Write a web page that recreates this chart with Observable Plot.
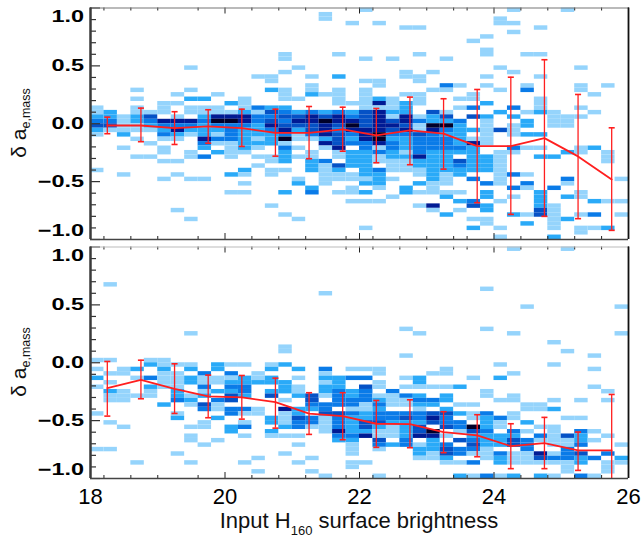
<!DOCTYPE html>
<html><head><meta charset="utf-8">
<script src="https://cdn.jsdelivr.net/npm/d3@7"></script>
<script src="https://cdn.jsdelivr.net/npm/@observablehq/plot@0.6"></script>
<style>
body{margin:0;background:#fff;}
#wrap{position:relative;width:641px;height:538px;overflow:hidden;font-family:"Liberation Sans",Arial,sans-serif;}
#wrap svg{position:absolute;left:0;}
</style></head><body><div id="wrap"></div>
<script>
// ---- data ----
const xMid = [18.25,18.75,19.25,19.75,20.25,20.75,21.25,21.75,22.25,22.75,23.25,23.75,24.25,24.75,25.25,25.75];
const topMed = [-0.015,-0.015,-0.038,-0.023,-0.038,-0.078,-0.078,-0.049,-0.101,-0.058,-0.086,-0.193,-0.193,-0.124,-0.282,-0.481];
const topHi  = [0.057,0.135,0.104,0.121,0.126,0.126,0.149,0.143,0.132,0.23,0.216,0.296,0.402,0.553,0.253,-0.035];
const topLo  = [-0.086,-0.155,-0.179,-0.168,-0.196,-0.28,-0.302,-0.237,-0.337,-0.354,-0.392,-0.682,-0.783,-0.80,-0.82,-0.921];
const botMed = [-0.219,-0.147,-0.225,-0.291,-0.30,-0.34,-0.44,-0.461,-0.527,-0.53,-0.599,-0.628,-0.72,-0.694,-0.757,-0.757];
const botHi  = [0.011,0.022,-0.009,-0.107,-0.11,-0.133,-0.259,-0.259,-0.326,-0.32,-0.423,-0.449,-0.527,-0.472,-0.599,-0.274];
const botLo  = [-0.461,-0.311,-0.438,-0.475,-0.487,-0.565,-0.619,-0.665,-0.731,-0.734,-0.777,-0.812,-0.915,-0.915,-0.93,-1.05];

// 2D histogram: one entry per x bin (0.2 mag, from 18), each [y bin index (52 bins over -1..1), count level 1-6]
const topCells = [
 [[29,1],[28,1],[27,2],[26,3],[25,4],[24,2],[23,1],[15,1]],
 [[28,2],[27,2],[26,3],[25,4],[24,1]],
 [[27,1],[26,1],[25,1],[24,1],[23,2],[20,1],[14,1]],
 [[33,1],[31,1],[29,1],[28,1],[27,2],[26,2],[25,1],[24,1],[22,1],[18,1]],
 [[28,1],[27,4],[26,3],[25,2],[24,1],[21,1],[18,1]],
 [[30,1],[29,1],[28,1],[26,5],[25,3],[24,2],[23,3],[22,1],[20,1],[19,1],[17,1],[13,1]],
 [[32,1],[30,1],[27,1],[26,5],[25,3],[24,5],[23,2],[22,1],[17,1],[14,1],[6,1]],
 [[38,1],[33,1],[31,2],[29,1],[28,1],[26,5],[25,3],[24,2],[23,1],[19,1],[18,1],[13,1],[4,1]],
 [[31,2],[29,1],[28,1],[27,2],[26,3],[25,2],[24,2],[23,2],[22,5],[21,3],[20,2],[18,3],[13,1]],
 [[32,1],[29,1],[28,1],[27,5],[26,6],[25,3],[24,2],[23,1],[22,3],[21,1],[19,2]],
 [[30,2],[28,1],[27,5],[26,6],[25,3],[24,3],[23,3],[22,3],[21,1],[20,1],[19,1],[18,1],[14,2],[10,1]],
 [[31,1],[30,1],[29,1],[28,2],[27,5],[26,5],[25,3],[24,2],[23,2],[22,2],[21,2],[20,2],[19,1],[15,2],[14,1],[12,1],[10,1]],
 [[36,1],[29,3],[28,1],[27,3],[26,3],[25,2],[24,2],[23,2],[22,1],[21,2],[20,1],[18,1],[16,1]],
 [[36,1],[35,1],[33,2],[29,2],[28,4],[27,3],[26,4],[25,5],[24,3],[23,2],[22,2],[21,2],[18,1],[17,1],[15,1],[14,1],[7,1]],
 [[41,1],[40,1],[37,1],[33,1],[32,1],[31,1],[29,2],[28,3],[27,4],[26,3],[25,4],[24,5],[23,3],[22,6],[21,1],[20,3],[19,2],[18,2],[17,2],[15,1],[10,2],[5,1]],
 [[38,1],[31,1],[28,2],[27,4],[26,5],[25,4],[24,2],[23,1],[22,1],[20,1],[18,1],[13,1],[12,2],[4,1]],
 [[36,1],[34,1],[33,1],[32,2],[28,3],[27,5],[26,5],[25,4],[24,4],[23,3],[22,1],[19,1],[18,1],[17,2],[16,2],[15,2],[11,2],[10,3]],
 [[50,1],[49,1],[32,1],[28,2],[27,4],[26,6],[25,5],[24,5],[23,5],[22,2],[21,5],[20,1],[17,3],[16,1],[15,1],[14,1],[13,1],[12,1]],
 [[41,1],[36,2],[33,1],[32,1],[31,1],[30,1],[28,3],[27,5],[26,5],[25,4],[24,3],[23,4],[22,4],[21,4],[20,5],[19,1],[18,1],[16,4],[15,2],[14,1],[13,1],[10,1]],
 [[48,1],[30,1],[28,2],[27,3],[26,5],[25,6],[24,5],[23,3],[22,2],[21,3],[19,2],[18,2],[17,2],[16,2],[14,1],[13,1],[11,1],[10,1],[8,1]],
 [[51,1],[40,1],[35,1],[33,1],[32,1],[31,1],[30,1],[29,1],[28,4],[27,4],[26,4],[25,4],[24,5],[23,5],[22,5],[21,3],[20,3],[19,2],[18,2],[17,2],[16,2],[15,2],[14,2],[13,1],[12,2],[10,2],[8,1],[2,1]],
 [[48,1],[35,1],[34,1],[31,2],[30,5],[29,1],[28,5],[27,5],[26,5],[25,5],[24,5],[23,6],[22,6],[21,5],[20,1],[19,3],[18,1],[17,1],[15,3],[14,2],[13,2],[12,2],[11,1],[8,1]],
 [[40,1],[31,1],[30,1],[29,1],[28,2],[27,1],[26,4],[25,5],[24,4],[23,3],[22,2],[21,3],[20,3],[19,2],[18,2],[17,1],[16,1],[15,1],[13,1],[9,1]],
 [[47,1],[37,1],[36,1],[32,1],[30,2],[29,2],[28,2],[27,5],[26,5],[25,4],[24,5],[23,3],[22,2],[21,2],[20,2],[19,1],[18,2],[17,1],[16,1],[15,1],[11,2],[10,2]],
 [[47,1],[41,1],[36,1],[35,1],[32,1],[31,1],[30,1],[27,1],[26,3],[25,1],[24,1],[23,4],[22,3],[21,3],[20,3],[19,3],[18,5],[17,2],[16,2],[15,1],[14,1],[12,2],[10,1],[7,1]],
 [[37,1],[33,1],[28,4],[27,2],[26,2],[25,6],[24,5],[23,3],[22,3],[21,3],[20,3],[19,2],[18,2],[17,2],[16,2],[15,2],[14,2],[13,2],[12,1],[11,1],[10,1],[7,5],[6,1]],
 [[40,1],[34,3],[33,1],[28,1],[27,4],[26,2],[25,6],[24,3],[23,2],[22,3],[21,3],[20,3],[19,2],[18,2],[17,2],[16,2],[15,2],[14,1],[13,1],[12,1],[10,1],[9,2],[5,2]],
 [[34,1],[31,1],[29,1],[26,3],[25,2],[24,2],[23,2],[22,2],[21,2],[20,3],[19,2],[17,4],[16,3],[15,2],[14,2],[10,1],[8,2],[6,1]],
 [[44,1],[32,1],[31,1],[29,3],[27,4],[24,2],[22,1],[21,5],[20,2],[19,2],[18,2],[17,2],[16,2],[15,2],[13,3],[8,3],[7,4],[4,1],[2,2]],
 [[45,1],[42,1],[41,1],[36,1],[34,1],[30,2],[27,2],[26,1],[25,1],[24,1],[23,1],[22,1],[21,1],[18,2],[17,2],[16,2],[15,2],[12,3],[10,2],[9,2],[7,2],[6,2],[4,1],[3,1]],
 [[49,1],[48,1],[38,1],[33,1],[28,2],[24,4],[19,1],[18,1],[17,1],[16,1],[15,1],[14,1],[13,1],[12,1],[8,1],[2,1],[0,1]],
 [[51,1],[48,1],[46,1],[37,1],[29,3],[27,2],[25,1],[24,1],[23,1],[20,3],[19,1],[14,3],[11,3],[9,1],[5,2]],
 [[41,1],[34,1],[33,3],[28,1],[26,2],[25,2],[23,2],[20,1],[14,1],[12,3],[11,1],[5,1],[3,2]],
 [[47,1],[41,1],[36,1],[31,1],[30,1],[29,1],[28,2],[23,2],[20,1],[18,2],[10,2],[9,2],[8,2],[7,2],[6,4],[5,4]],
 [[28,1],[27,1],[26,1],[25,1],[18,2],[11,3],[7,1],[6,1],[5,1],[4,1],[3,1],[2,1],[0,2]],
 [[51,1],[27,1],[26,1],[25,1],[19,2],[13,3],[12,1],[9,2],[4,2]],
 [[38,1],[34,1],[33,1],[29,1],[27,1],[20,1],[19,1],[10,1],[9,1],[5,1],[2,1],[1,1]],
 [[32,1],[28,1],[20,2],[8,2],[5,3],[2,1]],
 [[34,1],[19,1],[18,1],[17,1],[8,1],[2,2]],
 [[13,1],[8,1],[5,1]]
];
const botCells = [
 [[26,1],[24,1],[22,2],[20,1],[14,1],[6,1]],
 [[43,1],[26,1],[23,1],[21,1],[19,2],[18,1],[17,1],[12,1],[6,1]],
 [[24,1],[23,1],[19,1],[18,1],[17,1],[11,1]],
 [[24,2],[22,1],[18,1],[3,1]],
 [[26,1],[25,2],[22,3],[20,2],[19,1],[18,1]],
 [[26,1],[25,1],[24,2],[23,1],[22,1],[21,1],[20,1],[16,2]],
 [[25,1],[23,1],[22,1],[21,1],[20,1],[19,2],[18,2],[17,3],[14,1],[13,2],[5,1]],
 [[32,1],[25,1],[24,2],[22,2],[21,2],[18,1],[17,2],[16,1],[11,1],[9,1],[8,1],[3,1]],
 [[23,3],[22,1],[21,1],[20,3],[19,1],[18,2],[16,4],[15,3],[12,1],[11,1],[7,1]],
 [[25,2],[24,2],[22,1],[21,1],[19,2],[17,3],[16,1],[15,1],[13,2],[8,1]],
 [[25,1],[23,3],[22,1],[21,2],[20,3],[19,2],[18,4],[17,4],[15,3],[14,3],[11,2],[10,2]],
 [[25,1],[22,2],[21,2],[20,3],[19,3],[18,2],[15,3],[14,1],[12,1],[11,3],[9,1],[3,1]],
 [[23,1],[22,1],[21,2],[15,1],[14,1],[4,1],[1,1]],
 [[25,1],[24,2],[22,2],[21,2],[19,2],[18,4],[13,2],[12,2],[10,2],[9,1]],
 [[29,1],[28,1],[25,2],[21,2],[20,2],[19,2],[17,1],[15,5],[14,1],[13,1],[12,1],[11,2],[9,1],[5,1]],
 [[24,2],[22,1],[20,1],[19,1],[18,2],[15,2],[14,2],[13,4],[12,3],[11,3],[9,1],[7,1],[3,1]],
 [[18,4],[17,4],[16,3],[15,2],[13,3],[12,3],[11,1],[4,1],[1,1]],
 [[41,1],[24,3],[23,1],[22,2],[21,1],[20,2],[19,2],[18,1],[16,3],[15,3],[14,4],[13,1],[12,1],[11,1],[10,1],[0,1]],
 [[22,2],[21,2],[20,2],[19,3],[18,3],[17,3],[16,3],[14,4],[13,3],[12,3],[11,3],[10,5],[9,3],[8,2]],
 [[24,1],[22,3],[19,2],[18,2],[17,3],[16,3],[15,1],[14,3],[13,2],[12,2],[11,2],[10,2],[9,3],[8,2],[7,1],[6,1],[5,1],[3,1],[2,1]],
 [[24,1],[22,3],[20,4],[19,3],[18,3],[17,3],[16,1],[15,1],[14,2],[13,2],[12,4],[11,4],[10,2],[9,5],[3,1]],
 [[24,1],[23,1],[21,1],[20,1],[18,1],[17,2],[16,3],[15,2],[14,3],[13,3],[12,4],[11,2],[10,1],[9,1],[8,4],[7,3],[6,1],[0,1]],
 [[19,3],[18,1],[17,1],[16,1],[14,3],[13,3],[12,2],[11,1],[10,1],[9,1],[7,2]],
 [[33,1],[27,1],[22,1],[20,1],[18,3],[17,1],[16,1],[14,3],[13,4],[12,2],[11,2],[10,2],[9,2],[8,3],[7,3]],
 [[32,1],[22,2],[21,2],[20,1],[18,2],[17,3],[16,2],[15,1],[14,3],[13,3],[12,2],[11,4],[10,4],[9,5],[7,1],[6,2],[5,2],[4,1]],
 [[23,1],[20,1],[17,3],[16,2],[14,4],[13,5],[12,4],[10,6],[9,5],[8,2],[7,2],[6,2],[5,1],[4,1]],
 [[24,1],[23,1],[20,1],[18,2],[17,2],[15,2],[14,4],[13,3],[12,3],[11,4],[9,1],[7,3],[6,4],[5,4],[4,2],[3,1]],
 [[20,2],[16,1],[14,2],[12,3],[11,3],[10,1],[8,4],[6,3],[5,3],[3,1],[0,2]],
 [[22,1],[16,1],[14,1],[13,1],[11,6],[10,4],[9,2],[8,3],[7,4],[6,3],[5,1],[3,3],[0,1]],
 [[42,1],[33,1],[19,1],[18,1],[14,3],[13,2],[12,2],[11,2],[10,3],[9,2],[8,2],[7,2],[6,1],[5,1],[4,1],[0,3]],
 [[25,1],[22,2],[17,1],[13,3],[12,1],[11,1],[9,2],[8,2],[7,2],[5,3],[4,2],[3,2],[0,1]],
 [[51,1],[32,1],[23,1],[18,1],[17,1],[14,1],[13,1],[10,3],[9,2],[8,4],[7,4],[5,1],[4,1],[3,1],[0,2]],
 [[38,1],[16,1],[15,1],[12,2],[10,1],[8,3],[7,3],[6,3],[5,1],[4,1],[3,1]],
 [[16,1],[15,1],[11,1],[9,3],[8,1],[5,5],[4,4],[3,1],[0,2]],
 [[30,1],[25,1],[17,1],[15,2],[11,1],[10,1],[9,1],[8,1],[7,1],[5,1],[4,3],[3,1],[0,1]],
 [[51,1],[28,1],[13,1],[9,4],[8,1],[7,1],[6,3],[5,3],[4,3],[3,1],[2,1],[1,1]],
 [[17,1],[13,1],[10,3],[9,2],[8,2],[7,3],[5,4],[4,2],[3,2],[0,3]],
 [[27,1],[24,1],[20,1],[10,1],[8,1],[4,3],[0,1]],
 [[19,1],[17,1],[9,1],[5,3],[3,1],[2,1],[1,1]],
 [[38,1],[32,1],[7,1],[4,2],[3,1]]
];

const xMajor = [18, 20, 22, 24, 26];
const xMinor = [18.2, 18.6, 19.0, 19.6, 20.4, 20.8, 21.2, 21.8, 22.2, 22.6, 23.0, 23.4, 23.6, 24.4, 24.8, 25.2, 25.6];
const yMajor = [-1, -0.5, 0, 0.5, 1];
const yMinor = [-0.9,-0.8,-0.7,-0.6,-0.4,-0.3,-0.2,-0.1,0.1,0.2,0.3,0.4,0.6,0.7,0.8,0.9];
const yLabelsMid = [-0.5, 0, 0.5];
const levels = [1, 2, 3, 4, 5, 6];
const levelColors = ["#95d4fc", "#2aaaf8", "#0a7be8", "#0552c6", "#001b94", "#00002a"];

// ---- rendering ----
const X0 = 18, DX = 0.2, Y0 = -1, DY = 2 / 52, CAP = 0.045;
const RED = "#ff1f1f";
const FONT = "Liberation Sans, Arial, Helvetica, sans-serif";
const fmt = d3.format(".1f");

function toRects(cols) {
  const out = [];
  cols.forEach((pairs, c) => pairs.forEach(([r, lvl]) =>
    out.push({x1: X0 + c * DX, x2: X0 + (c + 1) * DX, y1: Y0 + r * DY, y2: Y0 + (r + 1) * DY, level: lvl})));
  return out;
}

function panel({cols, med, lo, hi, height, mt, mb, xLabels, topEdge}) {
  const W = 641 - 90 - 13, H = height - mt - mb;
  const stats = xMid.map((x, i) => ({x, med: med[i], lo: lo[i], hi: hi[i]}));
  const yAx = {tickSize: 0, tickPadding: 6.5, fontSize: 16.5, fontWeight: "bold", tickFormat: fmt, label: null};
  const marks = [
    Plot.rect(toRects(cols), {x1: "x1", x2: "x2", y1: "y1", y2: "y2", fill: "level"}),
    Plot.ruleX(stats, {x: "x", y1: d => Math.max(d.lo, -1), y2: "hi", stroke: RED, strokeWidth: 1.3}),
    Plot.link(stats, {x1: d => d.x - CAP, x2: d => d.x + CAP, y1: "hi", y2: "hi", stroke: RED, strokeWidth: 1.6}),
    Plot.link(stats.filter(d => d.lo >= -1), {x1: d => d.x - CAP, x2: d => d.x + CAP, y1: "lo", y2: "lo", stroke: RED, strokeWidth: 1.6}),
    Plot.line(stats, {x: "x", y: "med", stroke: RED, strokeWidth: 1.8}),
    Plot.tickX(xMajor, {x: d => d, insetTop: H - 6, stroke: "#222"}),
    Plot.tickX(xMinor, {x: d => d, insetTop: H - 3, stroke: "#222"}),
    Plot.tickX(xMajor, {x: d => d, insetBottom: H - 6, stroke: "#222"}),
    Plot.tickX(xMinor, {x: d => d, insetBottom: H - 3, stroke: "#222"}),
    Plot.tickY(yMajor, {y: d => d, insetRight: W - 10, stroke: "#333", strokeWidth: 1.2}),
    Plot.tickY(yMinor, {y: d => d, insetRight: W - 6, stroke: "#333", strokeWidth: 1.2}),
    Plot.ruleY([1], {stroke: topEdge, strokeWidth: 1.2}),
    Plot.ruleY([-1], {stroke: "#444", strokeWidth: 1.5}),
    Plot.ruleX([18], {stroke: "#3a3a3a", strokeWidth: 2.5}),
    Plot.ruleX([26], {stroke: "#111", strokeWidth: 1.8}),
    Plot.axisY({...yAx, ticks: yLabelsMid}),
    Plot.axisY({...yAx, ticks: [1], dy: 9}),
    Plot.axisY({...yAx, ticks: [-1], dy: -9})
  ];
  if (xLabels) marks.push(Plot.axisX({ticks: xMajor, tickSize: 0, tickPadding: 10, fontSize: 22, tickFormat: d => String(d), label: null}));
  const svg = Plot.plot({
    width: 641, height, marginLeft: 90, marginRight: 13, marginTop: mt, marginBottom: mb,
    x: {domain: [18, 26], ...(xLabels ? {} : {axis: null})},
    y: {domain: [-1, 1]},
    color: {type: "ordinal", domain: levels, range: levelColors},
    style: {background: "transparent", fontFamily: FONT, overflow: "visible"},
    marks
  });
  svg.querySelectorAll('g[aria-label="y-axis tick label"] text').forEach(t => {
    const tr = t.getAttribute("transform");
    if (tr) t.setAttribute("transform", tr + " scale(1.42,1)");
    else {
      const x = t.getAttribute("x") || 0, y = t.getAttribute("y") || 0;
      t.removeAttribute("x"); t.removeAttribute("y");
      t.setAttribute("transform", `translate(${x},${y}) scale(1.42,1)`);
    }
  });
  return svg;
}

const wrap = document.getElementById("wrap");
const topSvg = panel({cols: topCells, med: topMed, lo: topLo, hi: topHi, height: 246, mt: 7.5, mb: 7, xLabels: false, topEdge: "#777"});
topSvg.style.top = "0px";
wrap.appendChild(topSvg);
const botSvg = panel({cols: botCells, med: botMed, lo: botLo, hi: botHi, height: 298, mt: 6.5, mb: 60, xLabels: true, topEdge: "#bbb"});
botSvg.style.top = "240px";
wrap.appendChild(botSvg);

// text overlay: axis titles with subscripts
const ov = d3.select(wrap).append("svg").attr("width", 641).attr("height", 538)
  .style("top", "0px").style("pointer-events", "none").style("font-family", FONT);
[123, 362].forEach(cy => {
  const t = ov.append("text").attr("transform", `translate(26,${cy}) rotate(-90)`)
    .attr("text-anchor", "middle").attr("font-size", 21).attr("fill", "#111");
  t.append("tspan").text("δ a");
  t.append("tspan").attr("font-size", 12.5).attr("dy", 4).text("e,mass");
});
const xt = ov.append("text").attr("x", 359).attr("y", 528).attr("text-anchor", "middle")
  .attr("font-size", 22).attr("fill", "#111");
xt.append("tspan").text("Input H");
xt.append("tspan").attr("font-size", 13).attr("dy", 7).text("160");
xt.append("tspan").attr("dy", -7).text(" surface brightness");
</script></body></html>
